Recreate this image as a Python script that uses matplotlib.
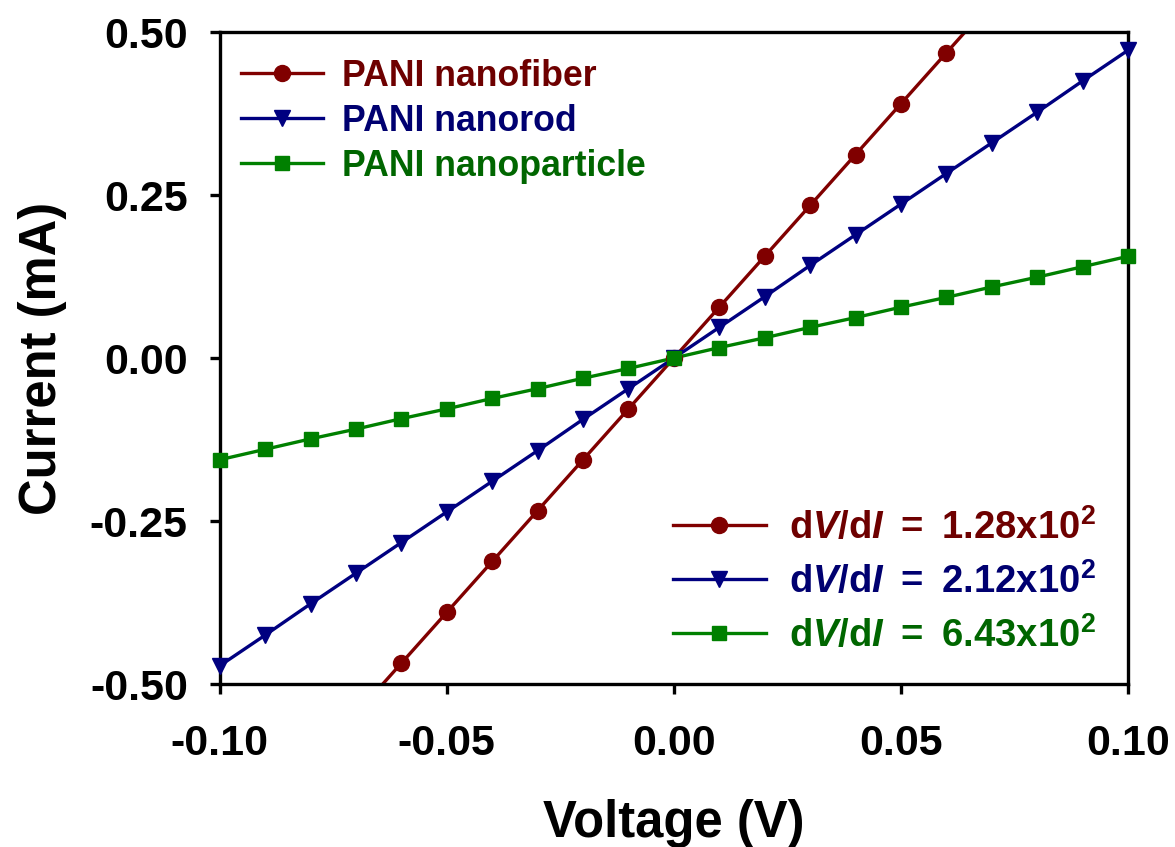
import matplotlib
matplotlib.use('Agg')
import matplotlib.pyplot as plt
from matplotlib.lines import Line2D

plt.rcParams['font.family'] = ['Liberation Sans', 'DejaVu Sans']
plt.rcParams['font.weight'] = 'bold'
plt.rcParams['mathtext.fontset'] = 'custom'
plt.rcParams['mathtext.rm'] = 'Liberation Sans:bold'
plt.rcParams['mathtext.it'] = 'Liberation Sans:bold:italic'
plt.rcParams['mathtext.bf'] = 'Liberation Sans:bold'

# I-V data (voltage in V, current in mA)
v_fiber = [-0.07, -0.06, -0.05, -0.04, -0.03, -0.02, -0.01, 0.00,
           0.01, 0.02, 0.03, 0.04, 0.05, 0.06, 0.07]
i_fiber = [-0.546, -0.468, -0.390, -0.312, -0.234, -0.156, -0.078, 0.000,
           0.078, 0.156, 0.234, 0.312, 0.390, 0.468, 0.546]

v_rod = [-0.10, -0.09, -0.08, -0.07, -0.06, -0.05, -0.04, -0.03, -0.02, -0.01, 0.00,
         0.01, 0.02, 0.03, 0.04, 0.05, 0.06, 0.07, 0.08, 0.09, 0.10]
i_rod = [-0.472, -0.425, -0.377, -0.330, -0.283, -0.236, -0.189, -0.142, -0.094, -0.047, 0.000,
         0.047, 0.094, 0.142, 0.189, 0.236, 0.283, 0.330, 0.377, 0.425, 0.472]

v_part = v_rod
i_part = [-0.156, -0.140, -0.124, -0.109, -0.093, -0.078, -0.062, -0.047, -0.031, -0.016, 0.000,
          0.016, 0.031, 0.047, 0.062, 0.078, 0.093, 0.109, 0.124, 0.140, 0.156]

names = ['PANI nanofiber', 'PANI nanorod', 'PANI nanoparticle']
slopes = ['1.28', '2.12', '6.43']
colors = ['#800000', '#000080', '#008000']
text_colors = ['#6e0000', '#000070', '#006600']
markers = ['o', 'v', 's']
msizes = [11.5, 11, 9.5]

xticks = [-0.10, -0.05, 0.00, 0.05, 0.10]
yticks = [-0.50, -0.25, 0.00, 0.25, 0.50]

fig = plt.figure(figsize=(11.75, 8.47), dpi=100)
ax = fig.add_axes([0.187, 0.1924, 0.773, 0.7698])

series = [(v_fiber, i_fiber), (v_rod, i_rod), (v_part, i_part)]
for (v, i), c, m, ms in zip(series, colors, markers, msizes):
    ax.plot(v, i, color=c, lw=2.4, zorder=2)
    # markers only where the point is inside the y range, not clipped at the frame
    vm = [a for a, b in zip(v, i) if abs(b) <= 0.5]
    im = [b for b in i if abs(b) <= 0.5]
    ax.plot(vm, im, ls='none', marker=m, ms=ms, color=c, clip_on=False, zorder=3)

ax.set_xlim(-0.1, 0.1)
ax.set_ylim(-0.5, 0.5)
ax.set_xticks(xticks)
ax.set_yticks(yticks)
ax.set_xticklabels(['%.2f' % t for t in xticks])
ax.set_yticklabels(['%.2f' % t for t in yticks])
ax.tick_params(direction='out', length=7, width=2.4, labelsize=31)
ax.tick_params(axis='x', pad=22)
ax.tick_params(axis='y', pad=16)
for s in ax.spines.values():
    s.set_linewidth(2.4)

ax.set_xlabel('Voltage (V)', fontsize=36.5, fontweight='bold')
ax.set_ylabel('Current (mA)', fontsize=36.5, fontweight='bold')
ax.xaxis.set_label_coords(0.5, -0.176)
ax.yaxis.set_label_coords(-0.168, 0.5)

h1 = [Line2D([], [], color=c, lw=2.4, marker=m, ms=ms) for c, m, ms in zip(colors, markers, msizes)]
leg1 = ax.legend(h1, names, loc='upper left', bbox_to_anchor=(0.023, 0.959), frameon=False,
                 prop={'size': 25.7, 'weight': 'bold'}, handlelength=2.3, handletextpad=0.55,
                 labelspacing=0.28, borderaxespad=0, borderpad=0, labelcolor=text_colors)
ax.add_artist(leg1)

labels2 = [r'd$\mathit{V}$/d$\mathit{I}$ ' + '\u2009=\u2009 ' + s + r'x10$^{2}$' for s in slopes]
h2 = [Line2D([], [], color=c, lw=2.4, marker=m, ms=ms) for c, m, ms in zip(colors, markers, msizes)]
ax.legend(h2, labels2, loc='lower right', bbox_to_anchor=(0.964, 0.045), frameon=False,
          prop={'size': 27.5, 'weight': 'bold'}, handlelength=2.43, handletextpad=0.6,
          labelspacing=0.4, borderaxespad=0, borderpad=0, labelcolor=text_colors)

fig.savefig('out.png', dpi=100)
